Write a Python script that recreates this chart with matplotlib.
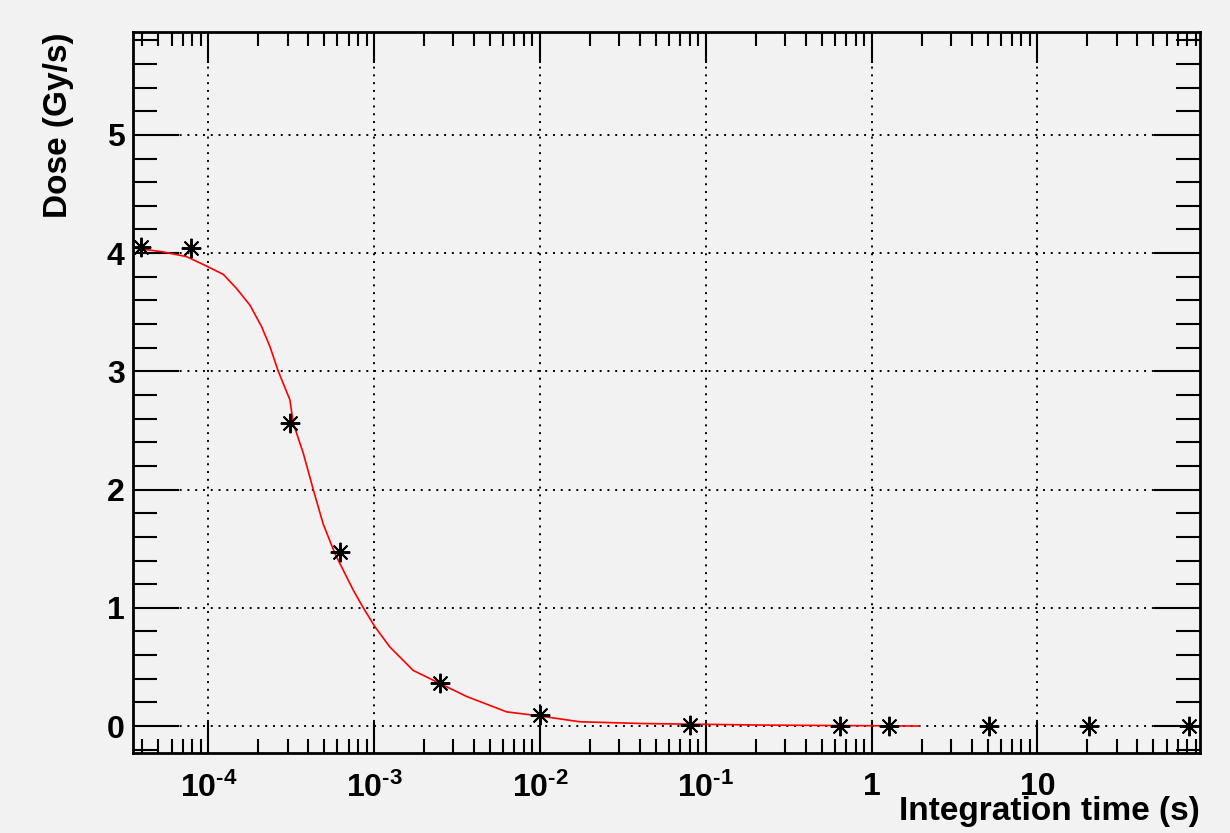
import numpy as np
import matplotlib
matplotlib.use('Agg')
import matplotlib.pyplot as plt
from matplotlib.ticker import LogLocator, FixedLocator, NullFormatter

plt.rcParams['font.family'] = ['Liberation Sans', 'DejaVu Sans']
plt.rcParams['font.weight'] = 'bold'
plt.rcParams['mathtext.fontset'] = 'custom'
plt.rcParams['mathtext.rm'] = 'Liberation Sans:bold'
plt.rcParams['mathtext.bf'] = 'Liberation Sans:bold'
plt.rcParams['mathtext.it'] = 'Liberation Sans:bold'

# measured points
t_int = [3.90625e-5, 7.8125e-5, 3.125e-4, 6.25e-4, 2.5e-3, 1e-2,
         0.08, 0.64, 1.28, 5.12, 20.48, 81.92]
dose = [4.05, 4.04, 2.56, 1.47, 0.366, 0.093,
        0.008, 0.002, 0.001, 0.001, 0.0, 0.0]

# fitted curve
fit_t = [3.69e-5, 5.34e-5, 7.39e-5, 9.76e-5, 1.23e-4, 1.48e-4, 1.78e-4,
         2.09e-4, 2.35e-4, 2.64e-4, 3.10e-4, 3.25e-4, 3.73e-4, 4.29e-4,
         4.92e-4, 5.79e-4, 7.47e-4, 8.59e-4, 1.01e-3, 1.24e-3, 1.72e-3,
         2.49e-3, 3.61e-3, 6.29e-3, 9.98e-3, 1.74e-2, 4.24e-2, 0.226, 1.93]
fit_dose = [4.04, 4.01, 3.97, 3.89, 3.82, 3.70, 3.56,
            3.38, 3.21, 3.00, 2.76, 2.56, 2.31, 2.00,
            1.71, 1.46, 1.15, 1.00, 0.84, 0.67, 0.47,
            0.36, 0.25, 0.12, 0.085, 0.036, 0.021, 0.008, 0.0]

y_ticks = [0, 1, 2, 3, 4, 5]
x_ticks = [1e-4, 1e-3, 1e-2, 1e-1, 1, 10]
x_labels = [r'$10^{\text{-}4}$', r'$10^{\text{-}3}$', r'$10^{\text{-}2}$',
            r'$10^{\text{-}1}$', '1', '10']

bg = '#f2f2f2'
fig = plt.figure(figsize=(12.3, 8.33), dpi=100, facecolor=bg)
ax = fig.add_axes([133 / 1230, 1 - 753 / 833, 1067 / 1230, 721 / 833])
ax.set_facecolor(bg)

ax.plot(fit_t, fit_dose, color='red', lw=1.2, zorder=3)
ax.plot(t_int, dose, ls='none', marker=(8, 2, 0), ms=14, mew=1.4,
        color='black', zorder=4)

ax.set_xscale('log')
ax.set_xlim(3.51e-5, 95.5)
ax.set_ylim(-0.228, 5.87)

ax.set_xticks(x_ticks)
ax.set_xticklabels(x_labels)
ax.xaxis.set_minor_locator(LogLocator(base=10, subs=np.arange(2, 10), numticks=20))
ax.xaxis.set_minor_formatter(NullFormatter())
ax.set_yticks(y_ticks)
ax.yaxis.set_minor_locator(FixedLocator(np.arange(-0.2, 5.9, 0.2)))

ax.tick_params(axis='both', which='both', direction='in', top=True, right=True,
               color='black', width=1.5)
ax.tick_params(axis='x', which='major', length=22, labelsize=23, pad=14)
ax.tick_params(axis='x', which='minor', length=10)
ax.tick_params(axis='y', which='major', length=33, labelsize=23, pad=6)
ax.tick_params(axis='y', which='minor', length=17)

for s in ax.spines.values():
    s.set_linewidth(2)

ax.grid(True, which='major', color='black', ls=(0, (1, 3)), lw=1.4)

ax.set_xlabel('Integration time (s)', fontsize=24, fontweight='bold')
ax.xaxis.set_label_coords(1.0, -0.081)
ax.xaxis.label.set_horizontalalignment('right')
ax.xaxis.label.set_verticalalignment('center')
ax.set_ylabel('Dose (Gy/s)', fontsize=24, fontweight='bold')
ax.yaxis.set_label_coords(-0.07, 1.0)
ax.yaxis.label.set_verticalalignment('center')
ax.yaxis.label.set_horizontalalignment('right')

fig.savefig('out.png', dpi=100, facecolor=bg)
